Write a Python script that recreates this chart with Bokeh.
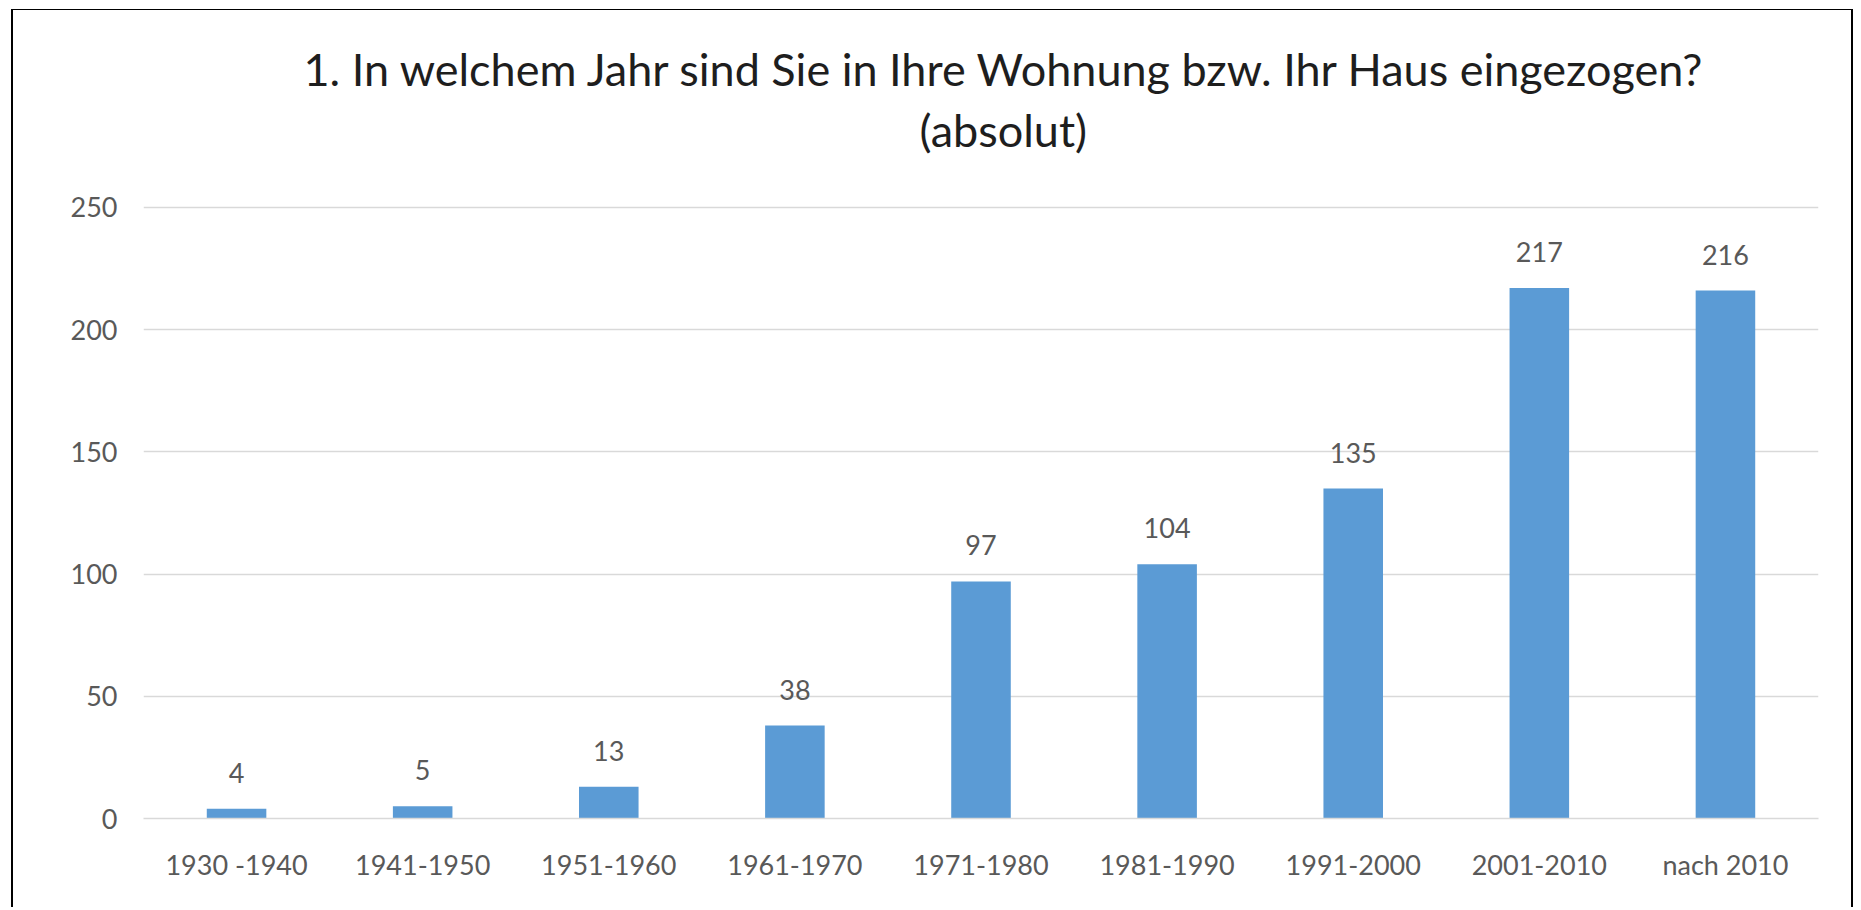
from bokeh.plotting import figure
from bokeh.models import ColumnDataSource, Range1d, FixedTicker, Title
from bokeh.core.properties import value
from bokeh.embed import file_html
from bokeh.resources import INLINE

categories = ["1930 -1940", "1941-1950", "1951-1960", "1961-1970", "1971-1980",
              "1981-1990", "1991-2000", "2001-2010", "nach 2010"]
counts = [4, 5, 13, 38, 97, 104, 135, 217, 216]
y_ticks = [0, 50, 100, 150, 200, 250]
title_line1 = "1. In welchem Jahr sind Sie in Ihre Wohnung bzw. Ihr Haus eingezogen?"
title_line2 = "(absolut)"

FONT = "Lato"
GRAY = "#595959"

src = ColumnDataSource(dict(cat=categories, val=counts, lab=[str(v) for v in counts]))

p = figure(x_range=categories, y_range=Range1d(0, 252),
           width=1842, height=898, output_backend="svg", toolbar_location=None,
           min_border_left=130, min_border_right=37, min_border_top=192,
           min_border_bottom=90)
p.margin = (9, 0, 0, 11)
p.styles = {"border-left": "2px solid #000", "border-top": "1px solid #000",
            "border-right": "2px solid #000"}

p.vbar(x="cat", top="val", width=0.32, source=src, color="#5B9BD5", line_color=None)
p.text(x="cat", y="val", text="lab", source=src, text_align="center",
       text_baseline="alphabetic", y_offset=-36, text_font=value(FONT),
       text_font_size="27px", text_color=GRAY)

# spacer between plot area and title block
p.add_layout(Title(text=" ", text_font=FONT, text_font_size="10px", standoff=27), "above")
p.add_layout(Title(text=title_line2, text_font=FONT, text_font_size="45px",
                   text_font_style="normal", text_color="#1e1e1e", align="left",
                   offset=776, standoff=10), "above")
p.add_layout(Title(text=title_line1, text_font=FONT, text_font_size="45px",
                   text_font_style="normal", text_color="#1e1e1e", align="left",
                   offset=160, standoff=0), "above")

p.outline_line_color = None
p.xgrid.grid_line_color = None
p.ygrid.ticker = FixedTicker(ticks=y_ticks)
p.ygrid.grid_line_color = "#D9D9D9"
p.ygrid.grid_line_width = 1.5

p.yaxis.ticker = FixedTicker(ticks=y_ticks)
p.yaxis.axis_line_color = None
p.yaxis.major_tick_line_color = None
p.yaxis.major_tick_out = 0
p.yaxis.major_tick_in = 0
p.yaxis.minor_tick_line_color = None
p.yaxis.major_label_standoff = 26
p.yaxis.major_label_text_font = FONT
p.yaxis.major_label_text_font_size = "27px"
p.yaxis.major_label_text_color = GRAY

p.xaxis.axis_line_color = "#D9D9D9"
p.xaxis.axis_line_width = 1.5
p.xaxis.major_tick_line_color = None
p.xaxis.major_tick_out = 0
p.xaxis.major_tick_in = 0
p.xaxis.minor_tick_line_color = None
p.xaxis.major_label_standoff = 29
p.xaxis.major_label_text_font = FONT
p.xaxis.major_label_text_font_size = "27px"
p.xaxis.major_label_text_color = GRAY

open("out.html", "w").write(file_html(p, INLINE))
